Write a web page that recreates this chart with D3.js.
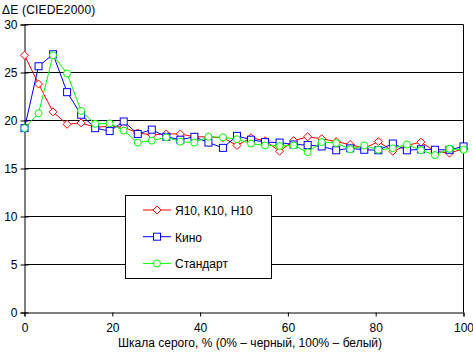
<!DOCTYPE html>
<html><head><meta charset="utf-8">
<script src="https://cdn.jsdelivr.net/npm/d3@7"></script>
<style>body{margin:0;background:#fff}svg{display:block}text{font-family:"Liberation Sans",Arial,sans-serif;font-size:12px;fill:#000}</style>
</head><body><svg id="c" width="473" height="353"></svg>
<script>
const grayPct = [0, 3.2, 6.5, 9.7, 12.9, 16.1, 19.4, 22.6, 25.8, 29.0, 32.3, 35.5, 38.7, 41.9, 45.2, 48.4, 51.6, 54.8, 58.1, 61.3, 64.5, 67.7, 71.0, 74.2, 77.4, 80.6, 83.9, 87.1, 90.3, 93.5, 96.8, 100];
const seriesNames = ["Я10, К10, Н10", "Кино", "Стандарт"];
const red   = [26.8, 23.8, 20.9, 19.6, 19.75, 19.3, 19.4, 19.3, 18.7, 18.5, 18.6, 18.6, 18.3, 18.3, 18.2, 17.4, 18.2, 17.9, 16.8, 17.9, 18.3, 18.1, 17.8, 17.5, 17.1, 17.8, 16.8, 17.4, 17.75, 16.8, 16.6, 17.05];
const blue  = [19.2, 25.65, 26.9, 22.95, 20.6, 19.2, 18.9, 19.9, 18.6, 19.05, 18.3, 18.0, 18.3, 17.7, 17.15, 18.4, 18.0, 17.75, 17.7, 17.5, 17.45, 17.3, 16.9, 17.1, 16.95, 16.9, 17.6, 16.9, 17.0, 16.95, 16.95, 17.3];
const green = [19.2, 20.75, 26.8, 24.9, 21.0, 19.65, 19.7, 18.95, 17.7, 17.9, 18.25, 17.8, 17.7, 18.3, 18.25, 18.05, 17.6, 17.4, 17.35, 17.4, 16.7, 17.75, 17.65, 17.0, 17.4, 16.95, 17.1, 17.5, 16.9, 16.4, 17.05, 16.95];
const xTicks = [0, 20, 40, 60, 80, 100];
const yTicks = [0, 5, 10, 15, 20, 25, 30];
const yTitle = "ΔE (CIEDE2000)";
const xTitle = "Шкала серого, % (0% – черный, 100% – белый)";

const svg = d3.select("#c");
const x = d3.scaleLinear().domain([0,100]).range([24.5,463.5]);
const y = d3.scaleLinear().domain([0,30]).range([312.5,24.5]);

// gridlines
svg.append("g").selectAll("line").data(yTicks.filter(d=>d>0)).join("line")
  .attr("x1",x(0)).attr("x2",x(100)).attr("y1",d=>y(d)).attr("y2",d=>y(d))
  .attr("stroke","#000").attr("stroke-width",1);
// right border
svg.append("line").attr("x1",x(100)).attr("x2",x(100)).attr("y1",y(30)).attr("y2",y(0)).attr("stroke","#000");

// axes
const gx = svg.append("g").attr("transform",`translate(0,${y(0)})`)
  .call(d3.axisBottom(x).tickValues(xTicks).tickSize(4).tickPadding(7).tickFormat(d3.format("d")));
const gy = svg.append("g").attr("transform",`translate(${x(0)},0)`)
  .call(d3.axisLeft(y).tickValues(yTicks).tickSize(4).tickPadding(3).tickFormat(d3.format("d")));
[gx,gy].forEach(g=>{g.select(".domain").attr("stroke","#000");g.selectAll(".tick line").attr("stroke","#000");
  g.selectAll("text").attr("font-family",'"Liberation Sans",Arial,sans-serif').attr("font-size",12.5).attr("fill","#000");});
gy.selectAll(".tick line").attr("x1",4);

svg.append("text").attr("x",2).attr("y",14).attr("font-size",13.5).attr("letter-spacing",0.2).text(yTitle);
svg.append("text").attr("x",(x(0)+x(100))/2+6).attr("y",347).attr("text-anchor","middle").attr("font-size",12.4).text(xTitle);

const series = [
  {name:seriesNames[0], vals:red, color:"#ff0000", shape:"diamond"},
  {name:seriesNames[1], vals:blue, color:"#0000ff", shape:"square"},
  {name:seriesNames[2], vals:green, color:"#00ff00", shape:"circle"}
];
function marker(g, shape, color){
  if(shape==="diamond") g.append("path").attr("d","M0,-4L4,0L0,4L-4,0Z");
  else if(shape==="square") g.append("rect").attr("x",-3.5).attr("y",-3.5).attr("width",7).attr("height",7);
  else g.append("circle").attr("r",3.5);
  g.selectAll("*").attr("fill","#fff").attr("stroke",color).attr("stroke-width",1);
}
const line = d3.line().x((d,i)=>x(grayPct[i])).y(d=>y(d));
series.forEach(s=>{
  svg.append("path").attr("d",line(s.vals)).attr("fill","none").attr("stroke",s.color).attr("stroke-width",1);
  svg.append("g").selectAll("g").data(s.vals).join("g")
    .attr("transform",(d,i)=>`translate(${x(grayPct[i])},${y(d)})`)
    .each(function(){marker(d3.select(this),s.shape,s.color);});
});

// legend
const lg = svg.append("g");
lg.append("rect").attr("x",125.5).attr("y",195.5).attr("width",146).attr("height",83).attr("fill","#fff").attr("stroke","#000");
series.forEach((s,i)=>{
  const cy = 210 + i*26.7;
  lg.append("line").attr("x1",143).attr("x2",171).attr("y1",cy).attr("y2",cy).attr("stroke",s.color);
  marker(lg.append("g").attr("transform",`translate(157,${cy})`), s.shape, s.color);
  lg.append("text").attr("x",175).attr("y",cy+5).attr("font-size",13.6).text(s.name);
});
</script></body></html>
